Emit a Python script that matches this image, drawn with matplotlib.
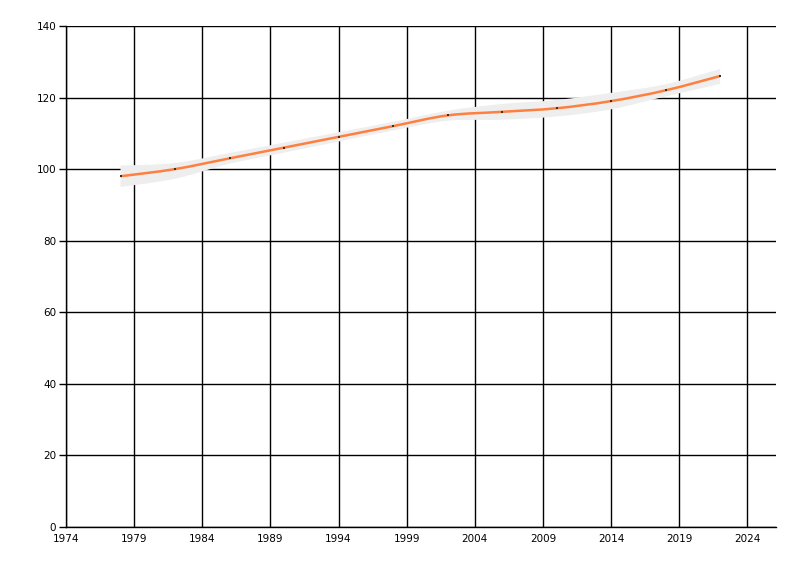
import numpy as np
import matplotlib
matplotlib.use("Agg")
from matplotlib import pyplot as plt
from matplotlib.path import Path
from matplotlib.patches import PathPatch

years = [1978, 1982, 1986, 1990, 1994, 1998, 2002, 2006, 2010, 2014, 2018, 2022]
values = [98, 100, 103, 106, 109, 112, 115, 116, 117, 119, 122, 126]
band_low = [95, 97.3, 101.5, 104.6, 107.7, 110.8, 113.5, 113.8, 114.7, 116.7, 120.3, 123.8]
band_high = [101, 101.7, 104.5, 107.4, 110.3, 113.2, 116.3, 118.2, 119.3, 121.3, 123.7, 128]

x_ticks = [1974, 1979, 1984, 1989, 1994, 1999, 2004, 2009, 2014, 2019, 2024]
y_ticks = [0, 20, 40, 60, 80, 100, 120, 140]


def smooth_verts(xs, ys, t=0.5):
	# cardinal spline through the points, as cubic bezier segments
	xs = np.asarray(xs, float)
	ys = np.asarray(ys, float)
	n = len(xs)
	verts = [(xs[0], ys[0])]
	codes = [Path.MOVETO]
	for i in range(n - 1):
		p0 = (xs[max(i - 1, 0)], ys[max(i - 1, 0)])
		p1 = (xs[i], ys[i])
		p2 = (xs[i + 1], ys[i + 1])
		p3 = (xs[min(i + 2, n - 1)], ys[min(i + 2, n - 1)])
		c1 = (p1[0] + (p2[0] - p0[0]) * t / 3, p1[1] + (p2[1] - p0[1]) * t / 3)
		c2 = (p2[0] - (p3[0] - p1[0]) * t / 3, p2[1] - (p3[1] - p1[1]) * t / 3)
		verts += [c1, c2, p2]
		codes += [Path.CURVE4] * 3
	return verts, codes


fig = plt.figure(figsize=(8, 5.76), dpi=100)
ax = fig.add_axes([0.0825, 0.085, 0.8875, 0.87])

# gray band, drawn over the grid
v_hi, c_hi = smooth_verts(years, band_high)
v_lo, c_lo = smooth_verts(years[::-1], band_low[::-1])
band_verts = v_hi + [v_lo[0]] + v_lo[1:] + [v_hi[0]]
band_codes = c_hi + [Path.LINETO] + c_lo[1:] + [Path.CLOSEPOLY]
ax.add_patch(PathPatch(Path(band_verts, band_codes), facecolor="#eeeeee", edgecolor="none", zorder=2))

# line
v, c = smooth_verts(years, values)
ax.add_patch(PathPatch(Path(v, c), facecolor="none", edgecolor="#ff7f3f", lw=1.8, zorder=3))
ax.scatter(years, values, s=3, marker="s", color="#333333", linewidths=0, zorder=4)

ax.set_xlim(1974, 2026.1)
ax.set_ylim(0, 140)
ax.set_xticks(x_ticks)
ax.set_yticks(y_ticks)
ax.grid(True, color="black", lw=1, zorder=1)
ax.set_axisbelow(True)
for s in ["top", "right"]:
	ax.spines[s].set_visible(False)
ax.spines["left"].set_linewidth(1)
ax.spines["bottom"].set_linewidth(1)
ax.tick_params(axis="y", length=5, width=1, labelsize=7.5, pad=2)
ax.tick_params(axis="x", length=0, labelsize=7.5, pad=5)

fig.savefig("out.png", dpi=100)
